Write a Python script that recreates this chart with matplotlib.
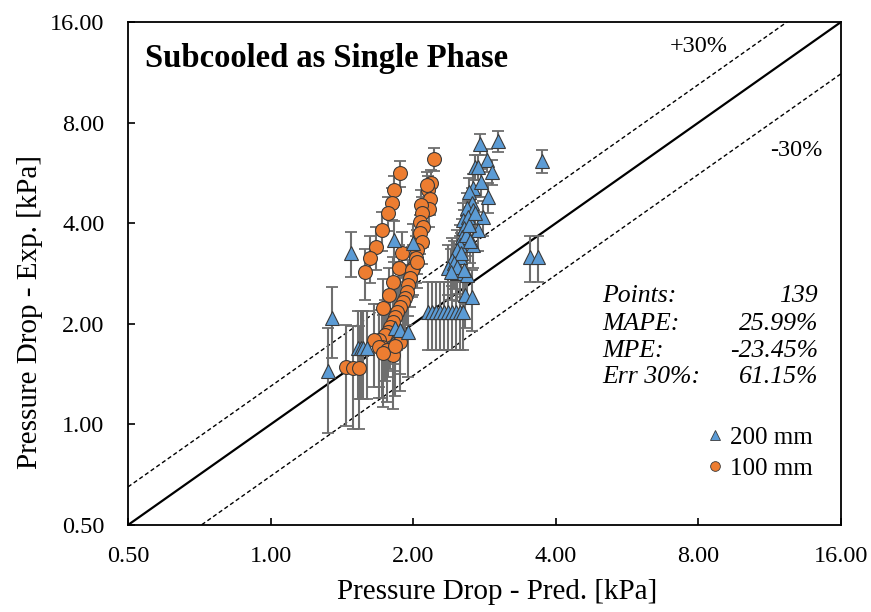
import matplotlib
matplotlib.use("Agg")
import matplotlib.pyplot as plt
from matplotlib.lines import Line2D
from matplotlib.ticker import FixedLocator, FormatStrFormatter, NullLocator

plt.rcParams['font.family'] = ['Liberation Serif', 'DejaVu Serif']

# ---------------- data ----------------
# 200 mm series (blue triangles): predicted vs experimental pressure drop [kPa]
pred_200 = [2.77, 3.02, 3.74, 2.86, 2.70, 2.74, 2.93, 2.67, 2.88, 2.62,
            2.66, 2.60, 2.67, 2.81, 2.55, 2.61, 2.56, 2.74, 2.54, 2.51,
            2.67, 2.47, 2.51, 2.41, 2.37, 2.47, 2.60, 3.53, 3.67, 2.57,
            2.66, 2.15, 2.19, 2.23, 2.28, 2.32, 2.37, 2.41, 2.46, 2.51,
            2.55, 1.35, 1.32, 1.48, 1.82, 1.53, 1.55, 1.57, 1.60, 1.83,
            1.88, 1.95, 2.00, 2.58, 2.52, 2.44, 2.62, 2.70, 2.78, 2.64,
            2.48, 2.56, 2.40]
exp_200 = [6.90, 7.04, 6.14, 6.18, 5.89, 5.89, 5.69, 5.10, 4.79, 4.96,
           4.60, 4.44, 4.38, 4.17, 4.09, 4.17, 3.87, 3.81, 3.63, 3.44,
           3.44, 3.32, 3.17, 3.10, 2.94, 2.84, 2.80, 3.17, 3.17, 2.44,
           2.40, 2.17, 2.17, 2.17, 2.17, 2.17, 2.17, 2.17, 2.17, 2.17,
           2.17, 2.08, 1.44, 3.26, 3.56, 1.69, 1.69, 1.69, 1.69, 1.94,
           1.92, 1.89, 3.49, 3.70, 3.25, 3.05, 3.95, 4.30, 5.30, 3.55,
           2.95, 2.90, 2.85]

# 100 mm series (orange circles)
pred_100 = [2.21, 1.88, 1.82, 1.80, 1.77, 1.72, 1.67, 1.62, 1.58, 2.18,
            2.15, 2.17, 2.16, 2.08, 2.09, 2.07, 2.10, 2.07, 2.09, 2.04,
            2.03, 1.89, 2.00, 1.87, 1.99, 1.97, 1.81, 1.95, 1.94, 1.78,
            1.92, 1.90, 1.88, 1.73, 1.85, 1.83, 1.81, 1.79, 1.77, 1.74,
            1.69, 1.65, 1.88, 1.72, 1.69, 1.76, 1.81, 1.73, 1.44, 1.49,
            1.54, 2.04, 2.14, 1.83]
exp_100 = [6.22, 5.65, 5.03, 4.60, 4.29, 3.81, 3.39, 3.15, 2.86, 5.28,
           5.03, 4.72, 4.41, 4.53, 4.29, 4.03, 3.89, 3.74, 3.51, 3.32,
           3.15, 3.26, 2.94, 2.94, 2.90, 2.74, 2.67, 2.61, 2.49, 2.44,
           2.39, 2.32, 2.24, 2.23, 2.17, 2.10, 2.02, 1.96, 1.89, 1.85,
           1.79, 1.79, 1.76, 1.70, 1.70, 1.67, 1.61, 1.63, 1.49, 1.47,
           1.47, 3.06, 5.21, 1.72]

exp_uncertainty_kpa = 0.5

band_factors = [1.3, 0.7]
axis_ticks = [0.5, 1, 2, 4, 8, 16]
series_labels = ['200 mm', '100 mm']

stats_labels = ['Points:', 'MAPE:', 'MPE:', 'Err 30%:']
stats_values = ['139', '25.99%', '-23.45%', '61.15%']

# ---------------- figure ----------------
fig = plt.figure(figsize=(8.71, 6.12), dpi=100)
ax = fig.add_axes([128 / 871, 87 / 612, 713 / 871, 503 / 612])

ax.set_xscale('log', base=2)
ax.set_yscale('log', base=2)
lo, hi = axis_ticks[0], axis_ticks[-1]
ax.set_xlim(lo, hi)
ax.set_ylim(lo, hi)

# reference lines
ax.plot([lo, hi], [lo, hi], color='black', lw=1.6, zorder=1)
for f in band_factors:
    ax.plot([lo, hi], [lo * f, hi * f], color='black', lw=1.0,
            linestyle=(0, (3, 2)), zorder=1)

blue = '#5B9BD5'
orange = '#ED7D31'
edge = '#3a3a3a'
ecol = '#6e6e6e'

ax.errorbar(pred_200, exp_200, yerr=exp_uncertainty_kpa, fmt='none',
            ecolor=ecol, elinewidth=1.5, capsize=4, capthick=1.3, zorder=2)
ax.errorbar(pred_100, exp_100, yerr=exp_uncertainty_kpa, fmt='none',
            ecolor=ecol, elinewidth=1.5, capsize=4, capthick=1.3, zorder=2)
ax.plot(pred_100, exp_100, linestyle='none', marker='o', ms=10,
        mfc=orange, mec=edge, mew=0.8, zorder=3)
ax.plot(pred_200, exp_200, linestyle='none', marker='^', ms=10.5,
        mfc=blue, mec=edge, mew=0.8, zorder=4)

# ticks
for axis in (ax.xaxis, ax.yaxis):
    axis.set_major_locator(FixedLocator(axis_ticks))
    axis.set_major_formatter(FormatStrFormatter('%.2f'))
    axis.set_minor_locator(NullLocator())
ax.tick_params(which='major', direction='in', length=5, width=1.2,
               labelsize=17.5, pad=15, colors='black')
ax.tick_params(axis='y', pad=17)
for s in ax.spines.values():
    s.set_linewidth(1.3)
    s.set_color('black')

ax.set_xlabel('Pressure Drop - Pred. [kPa]', fontsize=21)
ax.set_ylabel('Pressure Drop - Exp. [kPa]', fontsize=21)
ax.xaxis.set_label_coords(0.5175, -0.107)
ax.yaxis.set_label_coords(-0.119, 0.4235)

# annotations
ax.text(0.024, 0.9105, 'Subcooled as Single Phase', transform=ax.transAxes,
        fontsize=23.5, fontweight='bold', ha='left', va='baseline')
ax.text(0.801, 0.952, '+30%', transform=ax.transAxes, fontsize=17.5,
        ha='center', va='center')
ax.text(0.937, 0.7455, '-30%', transform=ax.transAxes, fontsize=17.5,
        ha='center', va='center')

row_y = [0.443, 0.388, 0.334, 0.282]
for lab, val, yy in zip(stats_labels, stats_values, row_y):
    ax.text(0.665, yy, lab, transform=ax.transAxes, fontsize=18.5,
            style='italic', ha='left', va='baseline')
    ax.text(0.968, yy, val, transform=ax.transAxes, fontsize=18.5,
            style='italic', ha='right', va='baseline')

handles = [Line2D([], [], linestyle='none', marker='^', ms=7, mfc=blue,
                  mec=edge, mew=0.6),
           Line2D([], [], linestyle='none', marker='o', ms=7, mfc=orange,
                  mec=edge, mew=0.6)]
ax.legend(handles, series_labels, loc='center left',
          bbox_to_anchor=(0.813, 0.143), frameon=False, fontsize=18,
          handlelength=0.6, handletextpad=0.3, labelspacing=0.35,
          borderpad=0, borderaxespad=0)

fig.savefig('out.png', dpi=100)
